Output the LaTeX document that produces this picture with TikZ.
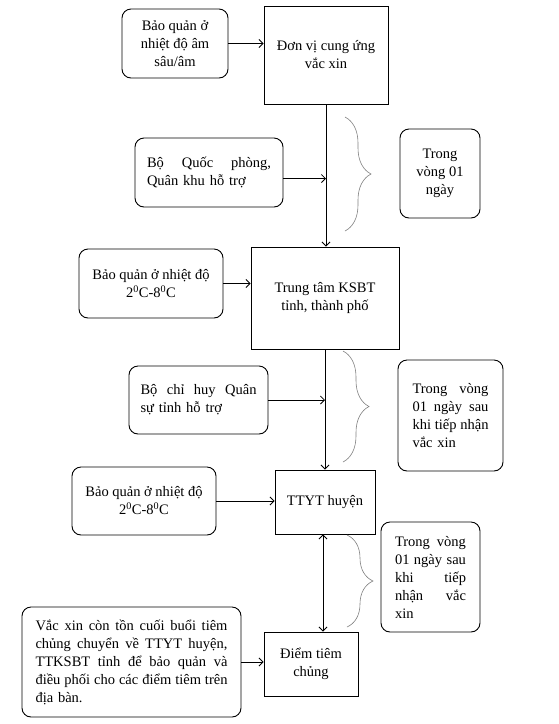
\documentclass[tikz,border=0pt]{standalone}
\usepackage{fontspec}
\setmainfont{Liberation Serif}
\usetikzlibrary{arrows.meta,decorations.pathreplacing}
\tolerance=9999
\hyphenpenalty=10000

\begin{document}
\begin{tikzpicture}[x=1pt,y=-1pt,
  font=\fontsize{14.5}{18}\selectfont,
  hop/.style={draw,line width=0.9pt,rounded corners=9pt,inner sep=4pt},
  khoi/.style={draw,line width=0.9pt,inner sep=4pt},
  muiten/.style={-{Straight Barb[length=4pt,width=8pt]},line width=0.8pt},
  dmuiten/.style={{Straight Barb[length=4pt,width=8pt]}-{Straight Barb[length=4pt,width=8pt]},line width=0.8pt},
  ngoac/.style={draw=gray,line width=0.6pt,decorate,decoration={brace,amplitude=26pt}}]
    \useasboundingbox (0,0) rectangle (558,724);
    % tuyen trung uong
    \node[hop,minimum width=106,minimum height=69,align=center] (A) at (175,43.5) {Bảo quản ở\\nhiệt độ âm\\sâu/âm};
    \node[khoi,minimum width=124,minimum height=98,align=center] (B) at (326,55) {Đơn vị cung ứng\\vắc xin};
    \node[hop,minimum width=148,minimum height=69,text width=124,align=left] (C) at (209,172.5) {Bộ\hfill Quốc\hfill phòng,\\Quân khu hỗ trợ};
    \node[hop,minimum width=80,minimum height=89,align=center] (D) at (440,173.5) {Trong\\vòng 01\\ngày};
    % tuyen tinh
    \node[hop,minimum width=144,minimum height=69,align=center] (E) at (151,283.5) {Bảo quản ở nhiệt độ\\2\textsuperscript{0}C-8\textsuperscript{0}C};
    \node[khoi,minimum width=148,minimum height=102,align=center] (TT) at (325,298) {Trung tâm KSBT\\tỉnh, thành phố};
    \node[hop,minimum width=139,minimum height=68,text width=116,align=left] (F) at (198.5,400) {Bộ\hfill chỉ\hfill huy\hfill Quân\\sự tỉnh hỗ trợ};
    \node[hop,minimum width=105,minimum height=111,text width=76,align=left] (G) at (450.5,415.5) {Trong\hfill vòng\\01\hfill ngày\hfill sau\\khi\hfill tiếp\hfill nhận\\vắc xin};
    % tuyen huyen
    \node[hop,minimum width=144,minimum height=68,align=center] (H) at (144,501) {Bảo quản ở nhiệt độ\\2\textsuperscript{0}C-8\textsuperscript{0}C};
    \node[khoi,minimum width=100,minimum height=64] (TTYT) at (325,502) {TTYT huyện};
    \node[hop,minimum width=99,minimum height=110,text width=71,align=left] (I) at (430.5,577) {Trong\hfill vòng\\01\hfill ngày\hfill sau\\khi\hfill tiếp\\nhận\hfill vắc\\xin};
    \node[hop,minimum width=219,minimum height=110,text width=192,align=left] (J) at (131.5,662) {Vắc\hfill xin\hfill còn\hfill tồn\hfill cuối\hfill buổi\hfill tiêm\\chủng\hfill chuyển\hfill về\hfill TTYT\hfill huyện,\\TTKSBT\hfill tỉnh\hfill để\hfill bảo\hfill quản\hfill và\\điều\hfill phối\hfill cho\hfill các\hfill điểm\hfill tiêm\hfill trên\\địa bàn.};
    \node[khoi,minimum width=94,minimum height=64,align=center] (K) at (311,664) {Điểm tiêm\\chủng};
    % mui ten
    \draw[muiten] (A) -- (A -| B.west);
    \draw[muiten] (B.south) -- (B.south |- TT.north);
    \draw[muiten] ([yshift=-6pt]C.east) -- ([yshift=-6pt]C.east -| B.south);
    \draw[muiten] (E) -- (E -| TT.west);
    \draw[muiten] (TT.south) -- (TT.south |- TTYT.north);
    \draw[muiten] (F) -- (F -| TT.south);
    \draw[muiten] (H) -- (H -| TTYT.west);
    \draw[dmuiten] ([xshift=-2pt]TTYT.south) -- ([xshift=-2pt]TTYT.south |- K.north);
    \draw[muiten] (J) -- (J -| K.west);
    % ngoac
    \draw[ngoac] (345,117) -- (345,231);
    \draw[ngoac] (343,351) -- (343,462);
    \draw[ngoac] (347,535) -- (347,627);
\end{tikzpicture}
\end{document}
